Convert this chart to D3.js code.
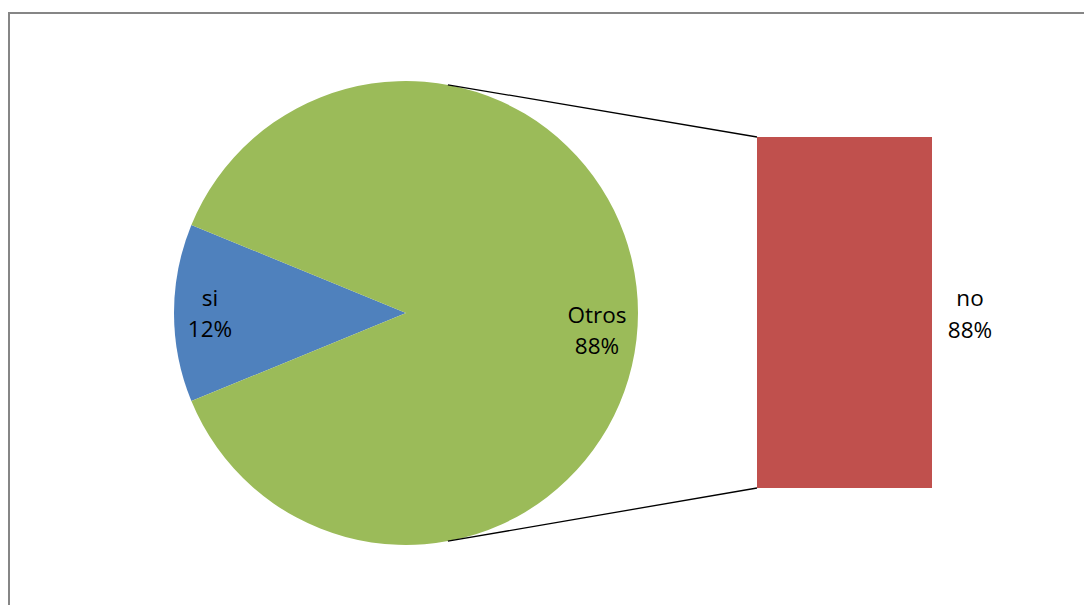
<!DOCTYPE html>
<html><head><meta charset="utf-8">
<script src="https://cdn.jsdelivr.net/npm/d3@7"></script>
<style>body{margin:0;background:#fff}svg{display:block}text{font-family:"Open Sans",Lato,sans-serif;font-size:22.5px;fill:#000}</style>
</head><body>
<script>
const pieCategories = ["si", "Otros"];
const pieValues = [12.4, 87.6];
const pieLabels = ["12%", "88%"];
const barCategories = ["no"];
const barValues = [87.6];
const barLabels = ["88%"];
const colors = ["#4F81BD", "#9BBB59"];
const barColor = "#C0504D";

const W = 1084, H = 605;
const svg = d3.select("body").append("svg").attr("width", W).attr("height", H);

// frame
svg.append("path").attr("d", `M9,${H} V13 H${W}`).attr("fill", "none").attr("stroke", "#868686").attr("stroke-width", 2);

const cx = 406, cy = 313, r = 232;
const total = d3.sum(pieValues);
const half = (pieValues[0] / total) * Math.PI;
const pie = d3.pie().sort(null).value(d => d)
  .startAngle(-Math.PI / 2 - half).endAngle(-Math.PI / 2 - half + 2 * Math.PI);
const arcs = pie(pieValues);
const arc = d3.arc().innerRadius(0).outerRadius(r);
const g = svg.append("g").attr("transform", `translate(${cx},${cy})`);
g.selectAll("path").data(arcs).join("path").attr("d", arc).attr("fill", (d, i) => colors[i]);

// labels
const labelPos = [[-196, -15], [191, 2]];
arcs.forEach((d, i) => {
  const t = g.append("text").attr("text-anchor", "middle")
    .attr("transform", `translate(${labelPos[i][0]},${labelPos[i][1]})`);
  t.append("tspan").attr("x", 0).attr("y", 8).text(pieCategories[i]);
  t.append("tspan").attr("x", 0).attr("y", 39).text(pieLabels[i]);
});

// bar
const bx0 = 757, bx1 = 932, byTop = 137, byBot = 488;
const y = d3.scaleLinear().domain([0, d3.sum(barValues)]).range([byBot, byTop]);
let acc = 0;
barValues.forEach((v, i) => {
  svg.append("rect").attr("x", bx0).attr("width", bx1 - bx0)
    .attr("y", y(acc + v)).attr("height", y(acc) - y(acc + v)).attr("fill", barColor);
  const mid = (y(acc) + y(acc + v)) / 2;
  const t = svg.append("text").attr("text-anchor", "middle");
  t.append("tspan").attr("x", bx1 + 38).attr("y", mid - 7).text(barCategories[i]);
  t.append("tspan").attr("x", bx1 + 38).attr("y", mid + 25).text(barLabels[i]);
  acc += v;
});

// connectors
const ang = 10.4 * Math.PI / 180;
const pTop = [cx + r * Math.sin(ang), cy - r * Math.cos(ang)];
const pBot = [cx + r * Math.sin(ang), cy + r * Math.cos(ang)];
svg.append("line").attr("x1", pTop[0]).attr("y1", pTop[1]).attr("x2", bx0).attr("y2", y(d3.sum(barValues)))
  .attr("stroke", "#000").attr("stroke-width", 1.3);
svg.append("line").attr("x1", pBot[0]).attr("y1", pBot[1]).attr("x2", bx0).attr("y2", y(0))
  .attr("stroke", "#000").attr("stroke-width", 1.3);
</script>
</body></html>
